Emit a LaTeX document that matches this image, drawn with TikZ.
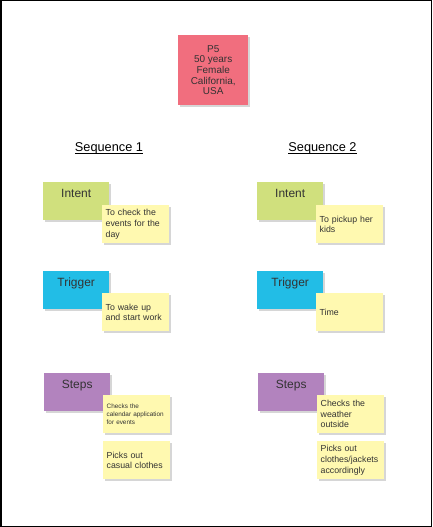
\documentclass[tikz,border=0pt]{standalone}
\usepackage{fontspec}
\setmainfont{Liberation Sans}
\usetikzlibrary{shadows}

\definecolor{personpink}{RGB}{241,110,126}
\definecolor{intentgreen}{RGB}{208,224,125}
\definecolor{triggerblue}{RGB}{34,189,230}
\definecolor{stepspurple}{RGB}{178,131,190}
\definecolor{stickyyellow}{RGB}{255,249,176}
\definecolor{inkgray}{RGB}{51,51,51}

% underline that sits just under the baseline
\newcommand{\seqhead}[1]{\setbox0\hbox{#1}\rlap{\raisebox{-2pt}{\rule{\wd0}{0.7pt}}}\box0}

\begin{document}
\begin{tikzpicture}[x=1bp,y=-1bp,
  shadowed/.style={drop shadow={shadow xshift=1.5bp,shadow yshift=-2bp,fill=black!40,opacity=0.4}},
  colnote/.style={shadowed, anchor=north west, inner sep=0pt, minimum width=66bp,
    text height=15.5bp, text depth=22.5bp, text=inkgray, font=\fontsize{12}{14}\selectfont},
  sticky/.style={shadowed, fill=stickyyellow, anchor=north west, inner xsep=3.5bp, inner ysep=0pt,
    text width=60bp, minimum height=38bp, align=left, text=inkgray, font=\fontsize{8.8}{10.6}\selectfont},
  tiny/.style={font=\fontsize{6.4}{7.8}\selectfont},
  seqtitle/.style={text=black, font=\fontsize{12.8}{15}\selectfont}]
\useasboundingbox (0,0) rectangle (432,527);

% Frame
\draw[line width=1.5bp] (0.75,0.75) rectangle (431.25,526.25);

% Person
\node[shadowed, fill=personpink, anchor=north west, minimum width=70bp, minimum height=70bp, inner sep=0pt,
  align=center, text=inkgray, font=\fontsize{10}{10.7}\selectfont] (person) at (178,35)
  {P5\\50 years\\Female\\California,\\USA};

% Sequence headings
\node[seqtitle, anchor=base] (seq1) at (109,151.5) {\seqhead{Sequence 1}};
\node[seqtitle, anchor=base] (seq2) at (322.5,151.5) {\seqhead{Sequence 2}};

% Sequence 1
\node[colnote, fill=intentgreen] (intent1) at (43,182) {Intent};
\node[sticky] (intentnote1) at (102,205) {To check the\\events for the\\day};
\node[colnote, fill=triggerblue] (trigger1) at (43,271) {Trigger};
\node[sticky] (triggernote1) at (102,293) {To wake up\\and start work};
\node[colnote, fill=stepspurple] (steps1) at (44,373) {Steps};
\node[sticky, tiny] (stepnote1a) at (103,395) {Checks the\\calendar application\\for events};
\node[sticky] (stepnote1b) at (103,441) {Picks out\\casual clothes};

% Sequence 2
\node[colnote, fill=intentgreen] (intent2) at (257,182) {Intent};
\node[sticky] (intentnote2) at (316,205) {To pickup her\\kids};
\node[colnote, fill=triggerblue] (trigger2) at (257,271) {Trigger};
\node[sticky] (triggernote2) at (316,293) {Time};
\node[colnote, fill=stepspurple] (steps2) at (258,373) {Steps};
\node[sticky] (stepnote2a) at (317,395) {Checks the\\weather\\outside};
\node[sticky] (stepnote2b) at (317,441) {Picks out\\clothes/jackets\\accordingly};
\end{tikzpicture}
\end{document}
